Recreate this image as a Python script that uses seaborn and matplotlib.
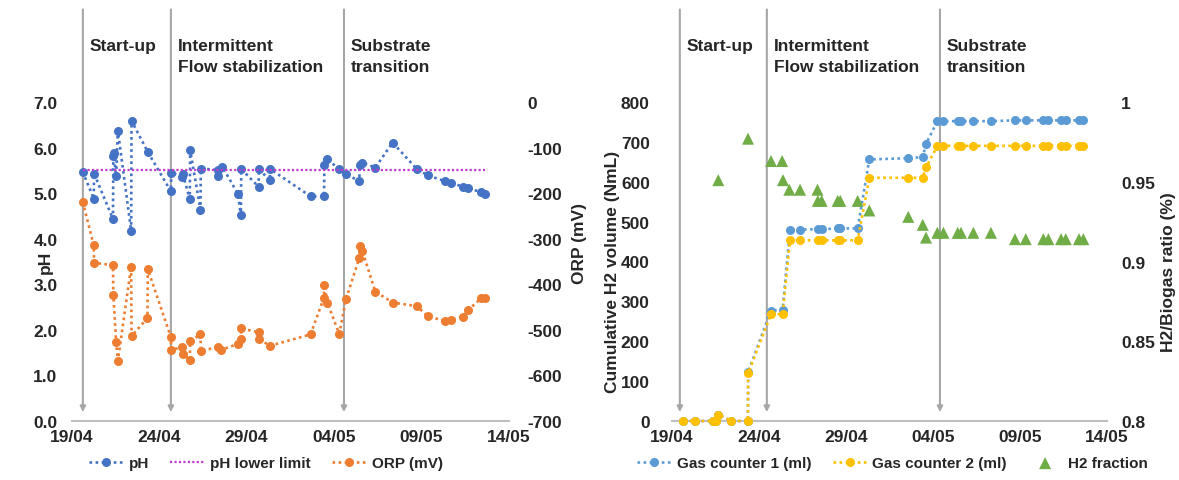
import numpy as np
import pandas as pd
import matplotlib
matplotlib.use("Agg")
import matplotlib.pyplot as plt
import matplotlib.dates as mdates
import seaborn as sns

# ---------------- data ----------------
START = pd.Timestamp("2023-04-19")

ph_days = [0.64, 1.27, 1.29, 2.37, 2.39, 2.40, 2.55, 2.65, 3.41, 3.43, 4.35,
           5.68, 5.70, 6.34, 6.36, 6.76, 6.78, 7.37, 7.39, 8.35, 8.36, 8.62,
           9.50, 9.68, 9.70, 10.69, 10.71, 11.33, 11.35, 13.66, 14.43, 14.45,
           14.62, 15.30, 15.69, 16.45, 16.46, 16.62, 17.36, 18.35, 19.73,
           20.36, 21.36, 21.66, 22.38, 22.66, 23.42, 23.65]
ph_values = [5.47, 4.88, 5.43, 4.43, 5.82, 5.89, 5.38, 6.37, 4.17, 6.59, 5.91,
             5.04, 5.45, 5.36, 5.42, 4.87, 5.94, 4.64, 5.54, 5.51, 5.37, 5.58,
             4.99, 4.51, 5.53, 5.14, 5.53, 5.28, 5.53, 4.93, 4.93, 5.61,
             5.74, 5.53, 5.42, 5.26, 5.62, 5.67, 5.56, 6.11, 5.53,
             5.39, 5.26, 5.23, 5.14, 5.11, 5.02, 4.98]

ph_limit_days = [0.64, 23.65]
ph_limit_values = [5.5, 5.5]

orp_days = [0.64, 1.27, 1.29, 2.37, 2.39, 2.55, 2.65, 3.41, 3.43, 4.34, 4.36,
            5.68, 5.70, 6.34, 6.36, 6.76, 6.78, 7.37, 7.39, 8.35, 8.55,
            9.50, 9.68, 9.70, 10.69, 10.71, 11.34, 13.66, 14.43, 14.45, 14.62,
            15.30, 15.69, 16.44, 16.46, 16.62, 17.36, 18.35, 19.73, 20.36,
            21.36, 21.66, 22.38, 22.66, 23.42, 23.65]
orp_values = [-219, -314, -353, -358, -423, -526, -568, -361, -514, -474, -367,
              -516, -544, -538, -552, -566, -525, -510, -546, -538, -544,
              -531, -520, -497, -505, -520, -535, -510, -429, -401, -440,
              -509, -432, -343, -317, -327, -416, -440, -448, -470,
              -481, -479, -471, -457, -430, -430]

gas_days = [0.65, 1.30, 2.37, 2.53, 2.66, 3.41, 4.36, 4.38, 5.69, 6.36, 6.78,
            7.36, 8.37, 8.60, 9.52, 9.67, 10.67, 11.34, 13.58, 14.41, 14.60,
            15.25, 15.60, 16.42, 16.61, 17.32, 18.33, 19.71, 20.33, 21.34,
            21.63, 22.36, 22.63, 23.39, 23.64]
gas1_values = [0, 0, 0, 0, 16, 0, 0, 124, 277, 279, 480,
               480, 481, 481, 483, 483, 483, 656, 659, 662, 695,
               752, 752, 752, 752, 752, 752, 754, 754, 754,
               754, 754, 754, 754, 754]
gas2_values = [0, 0, 0, 0, 16, 0, 0, 120, 268, 268, 453,
               453, 453, 453, 453, 453, 453, 610, 610, 610, 636,
               690, 690, 690, 690, 690, 690, 690, 690, 690,
               690, 690, 690, 690, 690]

h2_days = [2.66, 4.37, 5.69, 6.33, 6.38, 6.74, 7.36, 8.36, 8.38, 8.60, 9.52,
           9.67, 10.67, 11.34, 13.58, 14.41, 14.60, 15.25, 15.60, 16.42, 16.61,
           17.32, 18.33, 19.71, 20.33, 21.34, 21.63, 22.36, 22.63, 23.39, 23.64]
h2_values = [0.951, 0.977, 0.963, 0.963, 0.951, 0.945, 0.945, 0.945, 0.938,
             0.938, 0.938, 0.938, 0.938, 0.932, 0.928, 0.923, 0.915, 0.918,
             0.918, 0.918, 0.918, 0.918, 0.918, 0.914, 0.914, 0.914, 0.914,
             0.914, 0.914, 0.914, 0.914]

phase_names = ["Start-up", "Intermittent\nFlow stabilization", "Substrate\ntransition"]
left_phase_days = [0.65, 5.68, 15.57]
right_phase_days = [0.45, 5.45, 15.40]

x_tick_days = [0, 5, 10, 15, 20, 25]
ph_ticks = [0, 1, 2, 3, 4, 5, 6, 7]
orp_ticks = [-700, -600, -500, -400, -300, -200, -100, 0]
vol_ticks = [0, 100, 200, 300, 400, 500, 600, 700, 800]
ratio_ticks = [0.8, 0.85, 0.9, 0.95, 1.0]
ratio_tick_labels = ["0.8", "0.85", "0.9", "0.95", "1"]

# colours
C_PH = "#4472C4"
C_LIM = "#C23BCF"
C_ORP = "#ED7D31"
C_G1 = "#5B9BD5"
C_G2 = "#FFC000"
C_H2 = "#70AD47"
C_GRID = "#A6A6A6"


def to_dates(days):
    return START + pd.to_timedelta(np.asarray(days, dtype=float), unit="D")


# ---------------- style ----------------
sns.set_theme(style="white")
plt.rcParams["font.family"] = ["Liberation Sans", "DejaVu Sans"]
plt.rcParams["font.weight"] = "bold"
plt.rcParams["axes.labelweight"] = "bold"

fig = plt.figure(figsize=(11.79, 4.81), dpi=100)
axL = fig.add_axes([71.5 / 1179, 59 / 481, 437.5 / 1179, 319 / 481])
axR = fig.add_axes([672 / 1179, 59 / 481, 435 / 1179, 319 / 481])
axL2 = axL.twinx()
axR2 = axR.twinx()

DOT = (0, (1, 1.3))
LW = 1.9
MS = 6.5

line_kw = dict(estimator=None, sort=False, linestyle=DOT, linewidth=LW,
               marker="o", markersize=MS, markeredgewidth=0, clip_on=False)

# ---- left chart ----
sns.lineplot(x=to_dates(ph_days), y=ph_values, ax=axL, color=C_PH, label="pH",
             zorder=4, **line_kw)
sns.lineplot(x=to_dates(ph_limit_days), y=ph_limit_values, ax=axL, color=C_LIM,
             estimator=None, sort=False, linestyle=(0, (1, 1)), linewidth=1.6,
             label="pH lower limit", zorder=5)
sns.lineplot(x=to_dates(orp_days), y=orp_values, ax=axL2, color=C_ORP,
             label="ORP (mV)", zorder=4, **line_kw)

# ---- right chart ----
sns.lineplot(x=to_dates(gas_days), y=gas1_values, ax=axR, color=C_G1,
             label="Gas counter 1 (ml)", zorder=4, **line_kw)
sns.lineplot(x=to_dates(gas_days), y=gas2_values, ax=axR, color=C_G2,
             label="Gas counter 2 (ml)", zorder=5, **line_kw)
sns.scatterplot(x=to_dates(h2_days), y=h2_values, ax=axR2, color=C_H2,
                marker="^", s=75, edgecolor="none", label="H2 fraction",
                zorder=4, clip_on=False)

for a in (axL, axL2, axR, axR2):
    if a.get_legend() is not None:
        a.get_legend().remove()
    a.set_xlabel("")
    for s in a.spines.values():
        s.set_visible(False)
    a.tick_params(length=0, labelsize=12.5)
    for lbl in a.get_xticklabels() + a.get_yticklabels():
        lbl.set_fontweight("bold")

xt = to_dates(x_tick_days)
for a in (axL, axR):
    a.spines["bottom"].set_visible(True)
    a.spines["bottom"].set_color("#BFBFBF")
    a.spines["bottom"].set_linewidth(1.5)
    a.set_xlim(xt[0], xt[-1])
    a.set_xticks(xt)
    a.xaxis.set_major_formatter(mdates.DateFormatter("%d/%m"))
    a.tick_params(axis="x", pad=6)

axL.set_ylim(0, 7)
axL.set_yticks(ph_ticks)
axL.set_yticklabels([f"{v:.1f}" for v in ph_ticks], fontweight="bold")
axL.tick_params(axis="y", pad=10)
axL2.set_ylim(-700, 0)
axL2.set_yticks(orp_ticks)
axL2.set_yticklabels([str(v) for v in orp_ticks], fontweight="bold")
axL2.tick_params(axis="y", pad=13)

axR.set_ylim(0, 800)
axR.set_yticks(vol_ticks)
axR.set_yticklabels([str(v) for v in vol_ticks], fontweight="bold")
axR.tick_params(axis="y", pad=16)
axR2.set_ylim(0.8, 1.0)
axR2.set_yticks(ratio_ticks)
axR2.set_yticklabels(ratio_tick_labels, fontweight="bold")
axR2.tick_params(axis="y", pad=10)

axL.set_ylabel("pH", fontsize=12.5, fontweight="bold")
axL.yaxis.set_label_coords(-0.042, 0.50)
axL2.set_ylabel("ORP (mV)", fontsize=12.5, fontweight="bold")
axL2.yaxis.set_label_coords(1.145, 0.56)
axR.set_ylabel("Cumulative H2 volume (NmL)", fontsize=12.5, fontweight="bold")
axR.yaxis.set_label_coords(-0.119, 0.47)
axR2.set_ylabel("H2/Biogas ratio (%)", fontsize=12.5, fontweight="bold")
axR2.yaxis.set_label_coords(1.123, 0.47)

# phase markers
for a, days in ((axL, left_phase_days), (axR, right_phase_days)):
    for d, name in zip(days, phase_names):
        xn = mdates.date2num(START + pd.Timedelta(days=d))
        a.annotate("", xy=(xn, 0.028), xycoords=("data", "axes fraction"),
                   xytext=(xn, 1.29), textcoords=("data", "axes fraction"),
                   arrowprops=dict(arrowstyle="-|>", color=C_GRID, lw=1.5,
                                   mutation_scale=8, shrinkA=0, shrinkB=0),
                   zorder=1, annotation_clip=False)
        a.annotate(name, xy=(xn, 1.20), xycoords=("data", "axes fraction"),
                   xytext=(5, 0), textcoords="offset points",
                   ha="left", va="top", fontsize=12.5, fontweight="bold",
                   linespacing=1.45, annotation_clip=False)

# legends
hL, lL = [], []
for a in (axL, axL2):
    h, l = a.get_legend_handles_labels()
    hL += h
    lL += l
fig.legend(hL, lL, loc="center", bbox_to_anchor=(0.2256, 0.035), ncol=3,
           frameon=False, prop=dict(size=11, weight="bold"),
           handlelength=2.2, columnspacing=1.4, handletextpad=0.4)

hR, lR = [], []
for a in (axR, axR2):
    h, l = a.get_legend_handles_labels()
    hR += h
    lR += l
fig.legend(hR, lR, loc="center", bbox_to_anchor=(0.757, 0.035), ncol=3,
           frameon=False, prop=dict(size=11, weight="bold"),
           handlelength=2.2, columnspacing=1.4, handletextpad=0.4)

fig.savefig("out.png", dpi=100)
